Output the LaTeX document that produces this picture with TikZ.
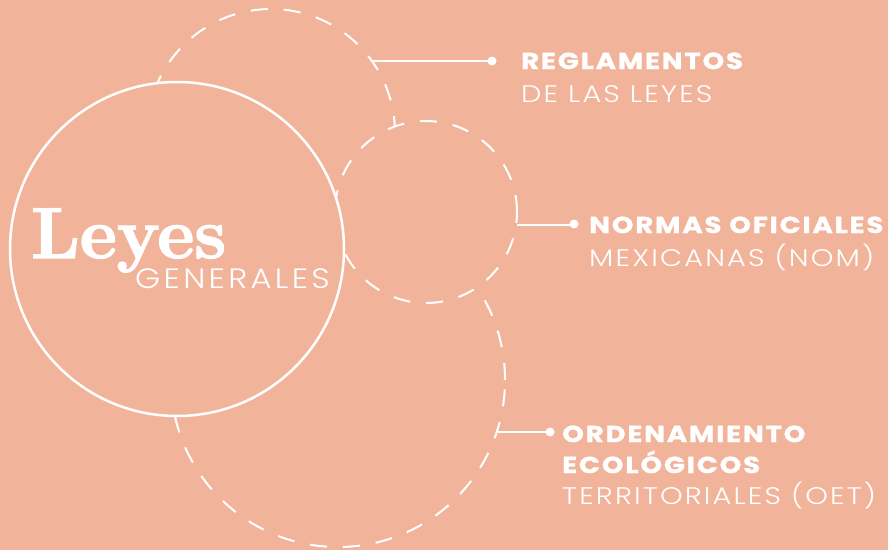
\documentclass[tikz,border=0pt]{standalone}
\usepackage{fontspec}
\setmainfont{Poppins}
\newfontfamily\plight{Poppins Light}
\newfontfamily\disp{Latin Modern Roman}
\definecolor{bg}{RGB}{241,180,155}
\tikzset{
  dashcirc/.style={circle, draw=white, line width=2pt, dash pattern=on 17pt off 16pt, inner sep=0pt},
  maincirc/.style={circle, draw=white, line width=2.5pt, fill=bg, inner sep=0pt},
  conn/.style={draw=white, line width=2pt},
  dot/.style={circle, fill=white, inner sep=0pt, minimum size=9pt},
  boldlbl/.style={anchor=base west, inner sep=0pt, text=white, font=\fontsize{23}{23}\selectfont\bfseries\addfontfeatures{FakeStretch=1.2,LetterSpace=8,FakeBold=1.2}},
  lightlbl/.style={anchor=base west, inner sep=0pt, text=white, font=\fontsize{24}{24}\selectfont\plight\addfontfeatures{FakeStretch=1.2,LetterSpace=9}},
}
\begin{document}
\begin{tikzpicture}[x=1pt,y=-1pt]
\fill[bg] (0,0) rectangle (888,550);
\useasboundingbox (0,0) rectangle (888,550);
% dashed circles (back to front)
\node[dashcirc, minimum size=334pt] (c3) at (338,380) {};
\node[dashcirc, minimum size=248pt] (c1) at (271,133) {};
\node[dashcirc, minimum size=182pt, fill=bg] (c2) at (426,212) {};
\node[maincirc, minimum size=334pt] (main) at (177,249) {};
% title
\node[anchor=base west, inner sep=0pt, text=white, font=\fontsize{72}{72}\selectfont\disp\bfseries\addfontfeatures{FakeBold=2}] (leyes) at (31,258) {Leyes};
\node[anchor=base west, inner sep=0pt, text=white, font=\fontsize{28}{28}\selectfont\plight\addfontfeatures{FakeStretch=1.15,LetterSpace=12}] (gen) at (135,288) {GENERALES};
% dots
\node[dot] (d1) at (492,61) {};
\node[dot] (d2) at (574,224) {};
\node[dot] (d3) at (550,432) {};
% connectors
\draw[conn] (c1.35.5) -- (c1.35.5 -| d1.center);
\draw[conn] (c2.-8) -- (c2.-8 -| d2.center);
\draw[conn] (c3.-18) -- (c3.-18 -| d3.center);
% labels
\node[boldlbl] (l1a) at (521,69) {REGLAMENTOS};
\node[lightlbl] (l1b) at (521,102) {DE LAS LEYES};
\node[boldlbl] (l2a) at (589,233) {NORMAS OFICIALES};
\node[lightlbl] (l2b) at (589,266) {MEXICANAS (NOM)};
\node[boldlbl] (l3a) at (562,442) {ORDENAMIENTO};
\node[boldlbl] (l3b) at (562,473) {ECOLÓGICOS};
\node[lightlbl] (l3c) at (562,504) {TERRITORIALES (OET)};
\end{tikzpicture}
\end{document}
